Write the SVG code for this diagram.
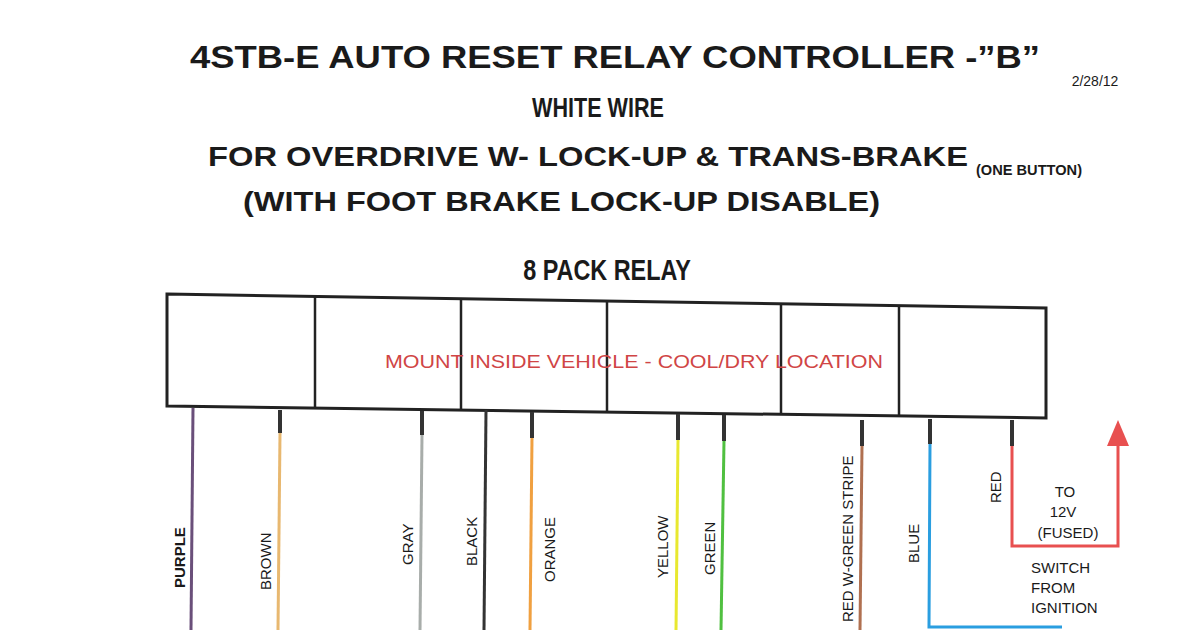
<svg xmlns="http://www.w3.org/2000/svg" width="1200" height="630" viewBox="0 0 1200 630">
<style>
.t{font-family:"Liberation Sans",Arial,sans-serif;fill:#1a1a1a}
.h{font-weight:bold}
.lab{font-family:"Liberation Sans",Arial,sans-serif;font-size:15px;fill:#1a1a1a}
.w{fill:none;stroke-width:3}
.stub{stroke:#333;stroke-width:4}
</style>
<rect width="1200" height="630" fill="#fff"/>
<text class="t h" x="190" y="68" font-size="31" textLength="850" lengthAdjust="spacingAndGlyphs">4STB-E AUTO RESET RELAY CONTROLLER -”B”</text>
<text class="t" x="1095" y="86" font-size="14" text-anchor="middle">2/28/12</text>
<text class="t h" x="598" y="117" font-size="27" text-anchor="middle" transform="translate(598 0) scale(0.8 1) translate(-598 0)">WHITE WIRE</text>
<text class="t h" x="208" y="166" font-size="28" textLength="760" lengthAdjust="spacingAndGlyphs">FOR OVERDRIVE W- LOCK-UP &amp;  TRANS-BRAKE</text>
<text class="t h" x="976" y="175" font-size="15" textLength="106" lengthAdjust="spacingAndGlyphs">(ONE BUTTON)</text>
<text class="t h" x="243" y="211" font-size="28" textLength="637" lengthAdjust="spacingAndGlyphs">(WITH FOOT BRAKE LOCK-UP DISABLE)</text>
<text class="t h" x="607" y="280" font-size="30" text-anchor="middle" transform="translate(607 0) scale(0.78 1) translate(-607 0)">8 PACK RELAY</text>
<g id="relay">
<path d="M167,294 L1046,308 L1046,418 L167,406 Z" fill="#fff" stroke="#222" stroke-width="3"/>
<g stroke="#222" stroke-width="2.5"><line x1="315" y1="296" x2="315" y2="408"/><line x1="461" y1="299" x2="461" y2="410"/><line x1="607" y1="301" x2="607" y2="412"/><line x1="781" y1="304" x2="781" y2="415"/><line x1="899" y1="306" x2="899" y2="416"/></g>
<text x="385" y="368" font-family="Liberation Sans,Arial,sans-serif" font-size="18" fill="#d04545" textLength="498" lengthAdjust="spacingAndGlyphs">MOUNT INSIDE VEHICLE - COOL/DRY LOCATION</text>
</g>
<g id="connectors">
<line class="w" x1="193" y1="408" x2="191" y2="630" stroke="#6a4f7a"/>
<line class="w" x1="280" y1="433" x2="278" y2="630" stroke="#e8b870"/>
<line class="w" x1="422" y1="435" x2="420" y2="630" stroke="#a8adaa"/>
<line class="w" x1="486" y1="410" x2="484" y2="630" stroke="#333"/>
<line class="w" x1="532" y1="438" x2="530" y2="630" stroke="#f0a040"/>
<line class="w" x1="678" y1="440" x2="676" y2="630" stroke="#e8e830"/>
<line class="w" x1="724" y1="441" x2="721" y2="630" stroke="#50c040"/>
<line class="w" x1="862" y1="446" x2="860" y2="630" stroke="#b07050"/>
<path class="w" d="M930,444 L929,627 L1062,627" stroke="#2a9ee0"/>
<path class="w" d="M1012,446 L1012,546 L1118,546 L1118,445" stroke="#e85050"/>
<path d="M1107,446 L1118,420 L1129,446Z" fill="#e85050"/>
<g class="stub"><line x1="280" y1="410" x2="280" y2="433"/><line x1="422" y1="411" x2="422" y2="435"/><line x1="532" y1="412" x2="532" y2="438"/><line x1="678" y1="414" x2="678" y2="440"/><line x1="724" y1="415" x2="724" y2="441"/><line x1="862" y1="420" x2="862" y2="446"/><line x1="930" y1="419" x2="930" y2="444"/><line x1="1012" y1="420" x2="1012" y2="446"/></g>
</g>
<g id="labels">
<text class="lab h" transform="translate(185 588) rotate(-90)">PURPLE</text>
<text class="lab" transform="translate(271 590) rotate(-90)">BROWN</text>
<text class="lab" transform="translate(413 565) rotate(-90)">GRAY</text>
<text class="lab" transform="translate(477 566) rotate(-90)">BLACK</text>
<text class="lab" transform="translate(555 582) rotate(-90)">ORANGE</text>
<text class="lab" transform="translate(668 578) rotate(-90)">YELLOW</text>
<text class="lab" transform="translate(715 575) rotate(-90)">GREEN</text>
<text class="lab" transform="translate(853 622) rotate(-90)">RED W-GREEN STRIPE</text>
<text class="lab" transform="translate(919 563) rotate(-90)">BLUE</text>
<text class="lab" transform="translate(1001 503) rotate(-90)">RED</text>
<g font-family="Liberation Sans,Arial,sans-serif" font-size="15" fill="#1a1a1a" text-anchor="middle"><text x="1065" y="497">TO</text><text x="1063" y="517">12V</text><text x="1068" y="538">(FUSED)</text></g>
<g font-family="Liberation Sans,Arial,sans-serif" font-size="15" fill="#1a1a1a"><text x="1031" y="573">SWITCH</text><text x="1031" y="593">FROM</text><text x="1031" y="613">IGNITION</text></g>
</g>
</svg>
